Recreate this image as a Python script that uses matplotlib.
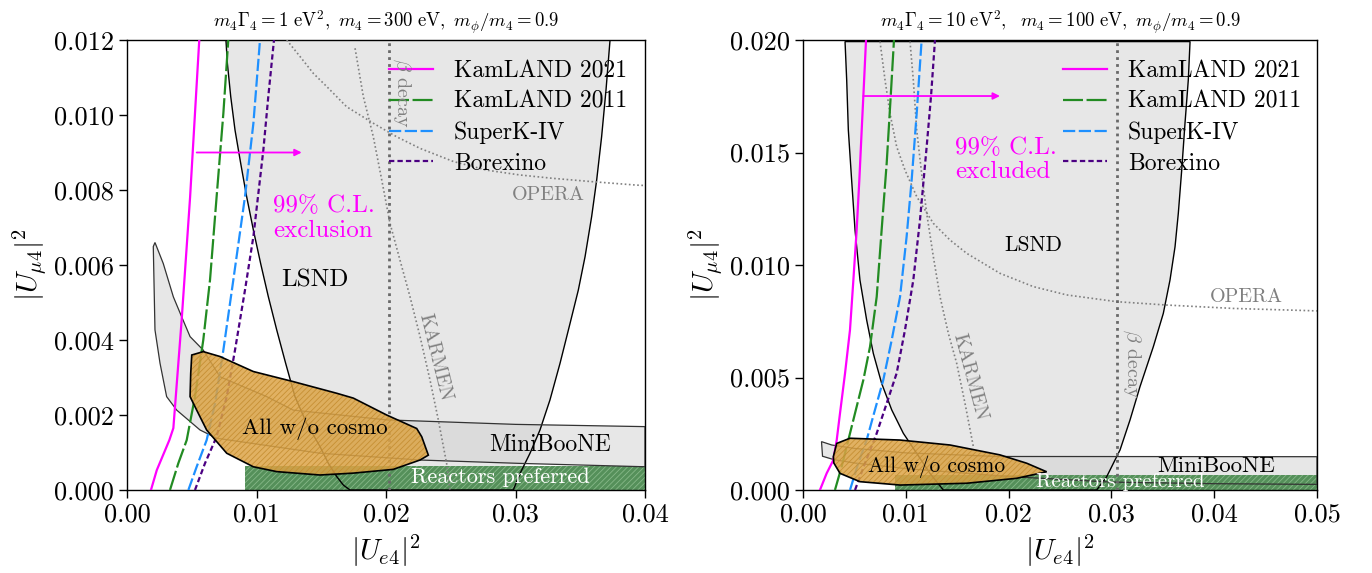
import numpy as np
import matplotlib
matplotlib.use("Agg")
import matplotlib.pyplot as plt

plt.rcParams['font.family'] = 'serif'
plt.rcParams['font.serif'] = ['cmr10', 'DejaVu Serif']
plt.rcParams['mathtext.fontset'] = 'cm'
plt.rcParams['axes.formatter.use_mathtext'] = True
plt.rcParams['axes.unicode_minus'] = False
plt.rcParams['hatch.linewidth'] = 0.6

# ---------------- left panel: m4*G4 = 1 eV^2, m4 = 300 eV ----------------
L_kam21_x = [0.00185, 0.0023, 0.00327, 0.00358, 0.00422, 0.00487, 0.00558]
L_kam21_y = [0.0, 0.00053, 0.00133, 0.00165, 0.00453, 0.0078, 0.012]
L_kam11_x = [0.00332, 0.00396, 0.00461, 0.00525, 0.00589, 0.00641, 0.00692, 0.00744, 0.00782]
L_kam11_y = [0.0, 0.00071, 0.00133, 0.00249, 0.0040, 0.0056, 0.00782, 0.01004, 0.012]
L_superk_x = [0.00474, 0.00538, 0.00615, 0.0068, 0.00744, 0.00821, 0.00911, 0.00976, 0.01027]
L_superk_y = [0.0, 0.00062, 0.00133, 0.00231, 0.00373, 0.0056, 0.00782, 0.00978, 0.012]
L_borex_x = [0.00525, 0.00602, 0.00692, 0.0077, 0.00834, 0.00911, 0.00976, 0.01053,
             0.01091, 0.01135]
L_borex_y = [0.0, 0.00071, 0.00142, 0.00249, 0.00373, 0.00533, 0.00676, 0.00907,
             0.01049, 0.012]

L_lsnd_x = [0.00764, 0.00775, 0.00801, 0.00834, 0.00878, 0.00924, 0.00976, 0.01032,
            0.01091, 0.01156, 0.01225, 0.01297, 0.01387, 0.0149, 0.01555, 0.01619,
            0.01671, 0.01722,
            0.02983, 0.03035, 0.03112, 0.03189, 0.03266, 0.03344, 0.03421, 0.03485,
            0.03537, 0.03588, 0.03627, 0.03665, 0.03699, 0.0373]
L_lsnd_y = [0.012, 0.01138, 0.01049, 0.0096, 0.00871, 0.00782, 0.00693, 0.00604,
            0.00516, 0.00427, 0.00338, 0.00249, 0.00178, 0.00116, 0.00071, 0.00036,
            0.00013, 0.0,
            0.0, 0.00044, 0.00098, 0.0016, 0.0024, 0.00338, 0.00444, 0.00533,
            0.00622, 0.00729, 0.00827, 0.00942, 0.01067, 0.012]

# LSND island joined to the MiniBooNE band
L_mb_x = [0.00216, 0.0028, 0.00358, 0.00422, 0.00487, 0.00589, 0.00718, 0.01079,
          0.01284, 0.02005, 0.0300, 0.0400,
          0.0400, 0.0303, 0.0226, 0.0149, 0.00693, 0.0064, 0.00564, 0.00384,
          0.00306, 0.00255, 0.00216, 0.00203]
L_mb_y = [0.0066, 0.00604, 0.00515, 0.00462, 0.00409, 0.00373, 0.00302, 0.00249,
          0.00213, 0.00187, 0.00175, 0.00169,
          0.00062, 0.00071, 0.0008, 0.00098, 0.00138, 0.00147, 0.0016, 0.00213,
          0.00249, 0.00338, 0.00427, 0.00649]

L_all_x = [0.0050, 0.00589, 0.00718, 0.00975, 0.01284, 0.01619, 0.01748, 0.02005,
           0.02237, 0.02276, 0.02327, 0.02263, 0.02056, 0.01748, 0.0149, 0.01156,
           0.00975, 0.0077, 0.00615, 0.00538, 0.00487, 0.00492]
L_all_y = [0.0036, 0.00369, 0.00356, 0.00316, 0.00289, 0.00258, 0.00245, 0.0020,
           0.00164, 0.00142, 0.00093, 0.0008, 0.00055, 0.00045, 0.0004, 0.00049,
           0.00062, 0.00098, 0.0016, 0.00213, 0.00249, 0.00311]

L_opera_x = [0.01233, 0.01336, 0.01439, 0.01542, 0.01696, 0.01902, 0.02082, 0.02263,
             0.0252, 0.02777, 0.03035, 0.03292, 0.03601, 0.03936, 0.0400]
L_opera_y = [0.012, 0.01156, 0.01111, 0.01076, 0.01022, 0.00978, 0.00942, 0.00911,
             0.00876, 0.00853, 0.0084, 0.00831, 0.00822, 0.00813, 0.00812]
L_karmen_x = [0.01761, 0.01825, 0.01902, 0.01967, 0.02031, 0.02108, 0.02185, 0.02263,
              0.0234, 0.02404, 0.02468, 0.02494]
L_karmen_y = [0.01178, 0.01049, 0.00942, 0.00827, 0.00711, 0.00613, 0.00516, 0.00409,
              0.00293, 0.00187, 0.00071, 0.0]
L_beta = 0.02026
L_reactor = (0.00911, 0.00064)   # x start, upper edge
L_arrow = (0.00538, 0.01349, 0.0090)

# ---------------- right panel: m4*G4 = 10 eV^2, m4 = 100 eV ----------------
R_kam21_x = [0.00165, 0.0023, 0.00295, 0.00328, 0.0036, 0.00409, 0.00457, 0.0049,
             0.00522, 0.00548, 0.00571, 0.00593, 0.00613]
R_kam21_y = [0.0, 0.00074, 0.00133, 0.00222, 0.00341, 0.00519, 0.00711, 0.00933,
             0.01156, 0.01378, 0.016, 0.01807, 0.020]
R_kam11_x = [0.00311, 0.00376, 0.00425, 0.00506, 0.00587, 0.00652, 0.00717, 0.00765,
             0.00814, 0.00853, 0.00885]
R_kam11_y = [0.0, 0.00104, 0.00193, 0.00341, 0.00489, 0.00637, 0.00859, 0.01156,
             0.01452, 0.01748, 0.020]
R_superk_x = [0.00457, 0.00538, 0.00619, 0.0070, 0.00781, 0.00863, 0.00944, 0.01008,
              0.01057, 0.01106, 0.01154]
R_superk_y = [0.0, 0.00119, 0.00222, 0.00356, 0.00489, 0.00667, 0.00859, 0.01126,
              0.01378, 0.01674, 0.020]
R_borex_x = [0.00506, 0.00603, 0.00717, 0.00814, 0.00911, 0.00992, 0.01073, 0.01138,
             0.01203, 0.01245, 0.01284]
R_borex_y = [0.0, 0.00119, 0.00252, 0.00385, 0.00519, 0.00711, 0.00933, 0.012,
             0.01526, 0.01748, 0.020]

R_lsnd_x = [0.00409, 0.00425, 0.00441, 0.00473, 0.00506, 0.00554, 0.00619, 0.00684,
            0.00765, 0.00863, 0.00976, 0.01106, 0.01235, 0.01365,
            0.02857, 0.02954, 0.03084, 0.03181, 0.03278, 0.03408, 0.03505, 0.0357,
            0.03619, 0.03651, 0.03684, 0.03716, 0.03748, 0.03765]
R_lsnd_y = [0.01993, 0.01822, 0.016, 0.01378, 0.01156, 0.00933, 0.00756, 0.00607,
            0.00474, 0.00356, 0.00252, 0.00163, 0.00074, 0.0,
            0.0, 0.00059, 0.00178, 0.00311, 0.00459, 0.00637, 0.00785, 0.00933,
            0.01081, 0.0123, 0.01422, 0.0163, 0.01822, 0.01993]

R_mb_x = [0.0018, 0.0028, 0.0050, 0.0100, 0.0190, 0.0500,
          0.0500, 0.0400, 0.0300, 0.0200, 0.0100, 0.0050, 0.0030, 0.0019]
R_mb_y = [0.00215, 0.0020, 0.00185, 0.00165, 0.00149, 0.00148,
          0.00025, 0.00028, 0.00035, 0.0006, 0.00095, 0.0012, 0.00135, 0.00150]

R_all_x = [0.00295, 0.00328, 0.00457, 0.00944, 0.0143, 0.01916, 0.02176, 0.0237,
           0.02079, 0.01592, 0.00944, 0.00554, 0.0036, 0.0030]
R_all_y = [0.00148, 0.00207, 0.0023, 0.00222, 0.0020, 0.00156, 0.00119, 0.00081,
           0.00052, 0.0003, 0.00022, 0.00037, 0.00074, 0.00120]

R_opera_x = [0.00749, 0.00798, 0.00846, 0.00911, 0.00992, 0.01106, 0.01268, 0.0143,
             0.01592, 0.01916, 0.0224, 0.02565, 0.03051, 0.03538, 0.04186, 0.04932, 0.0500]
R_opera_y = [0.01993, 0.01822, 0.01674, 0.01526, 0.01422, 0.01304, 0.01185, 0.01111,
             0.01052, 0.00963, 0.00904, 0.00867, 0.00837, 0.00822, 0.00807, 0.00797, 0.00796]
R_karmen_x = [0.01041, 0.01073, 0.01106, 0.01154, 0.01203, 0.01268, 0.01333, 0.01414,
              0.01495, 0.01576, 0.01657]
R_karmen_y = [0.01993, 0.01822, 0.016, 0.01407, 0.0123, 0.01037, 0.00859, 0.00696,
              0.00563, 0.00385, 0.00193]
R_beta = 0.03051
R_reactor = (0.00895, 0.00067)
R_arrow = (0.00587, 0.01916, 0.01751)

legend_labels = ['KamLAND 2021', 'KamLAND 2011', 'SuperK-IV', 'Borexino']
titles = [r'$m_4\Gamma_4 = 1\ \mathrm{eV}^2,\ m_4 = 300\ \mathrm{eV},\ m_\phi/m_4 = 0.9$',
          r'$m_4\Gamma_4 = 10\ \mathrm{eV}^2,\ \ m_4 = 100\ \mathrm{eV},\ m_\phi/m_4 = 0.9$']


def draw_panel(ax, d, xmax, ymax):
    # shaded allowed regions
    ax.fill(d['lsnd'][0], d['lsnd'][1], color='#d0d0d0', alpha=0.5, lw=0, zorder=1)
    ax.fill(d['mb'][0], d['mb'][1], color='#d0d0d0', alpha=0.5, lw=0, zorder=1)
    x0, ytop = d['reactor']
    ax.fill_between([x0, xmax], 0, ytop, facecolor='#55905a', edgecolor='#86b888',
                    hatch='//////', lw=0, zorder=2)
    ax.fill(d['lsnd'][0], d['lsnd'][1], fill=False, ec='black', lw=1.0, zorder=3)
    ax.fill(d['mb'][0], d['mb'][1], fill=False, ec='#333333', lw=0.9, zorder=3)

    # other experiments
    ax.plot(d['opera'][0], d['opera'][1], ls=(0, (1, 1.5)), color='gray', lw=1.2, zorder=3)
    ax.plot(d['karmen'][0], d['karmen'][1], ls=(0, (1, 1.5)), color='gray', lw=1.2, zorder=3)
    ax.axvline(d['beta'], ls=(0, (1, 1.5)), color='dimgray', lw=2.0, zorder=3)

    # solar-reactor exclusion curves
    l1, = ax.plot(d['kam21'][0], d['kam21'][1], color='magenta', lw=1.6, zorder=4)
    l2, = ax.plot(d['kam11'][0], d['kam11'][1], color='forestgreen', lw=1.6,
                  dashes=(9, 1.6), zorder=4)
    l3, = ax.plot(d['superk'][0], d['superk'][1], color='dodgerblue', lw=1.6,
                  dashes=(5.5, 1.6), zorder=4)
    l4, = ax.plot(d['borex'][0], d['borex'][1], color='indigo', lw=1.6,
                  dashes=(2.4, 1.4), zorder=4)

    # global fit without cosmology
    ax.fill(d['all'][0], d['all'][1], facecolor='#dca446', edgecolor='#c28a2c',
            hatch='//////', alpha=0.85, lw=0, zorder=5)
    ax.fill(d['all'][0], d['all'][1], fill=False, ec='black', lw=1.2, zorder=6)

    xa0, xa1, ya = d['arrow']
    ax.annotate('', xy=(xa1, ya), xytext=(xa0, ya),
                arrowprops=dict(arrowstyle='-|>', color='magenta', lw=1.3,
                                mutation_scale=10, shrinkA=0, shrinkB=0), zorder=7)

    ax.set_xlim(0, xmax)
    ax.set_ylim(0, ymax)
    ax.set_xlabel(r'$|U_{e4}|^2$', fontsize=21)
    ax.set_ylabel(r'$|U_{\mu4}|^2$', fontsize=21)
    ax.tick_params(labelsize=19, width=1.0, length=6)
    for s in ax.spines.values():
        s.set_linewidth(1.0)
    ax.legend([l1, l2, l3, l4], legend_labels, loc='upper left',
              bbox_to_anchor=(0.506, 0.955), frameon=False, fontsize=17,
              handlelength=1.85, handletextpad=0.9, labelspacing=0.36,
              borderpad=0, borderaxespad=0)


fig = plt.figure(figsize=(13.72, 5.73), dpi=100)
axL = fig.add_axes([127/1372, 83/573, 518/1372, 450/573])
axR = fig.add_axes([803/1372, 83/573, 514/1372, 450/573])

left = dict(kam21=(L_kam21_x, L_kam21_y), kam11=(L_kam11_x, L_kam11_y),
            superk=(L_superk_x, L_superk_y), borex=(L_borex_x, L_borex_y),
            lsnd=(L_lsnd_x, L_lsnd_y), mb=(L_mb_x, L_mb_y), all=(L_all_x, L_all_y),
            opera=(L_opera_x, L_opera_y), karmen=(L_karmen_x, L_karmen_y),
            beta=L_beta, reactor=L_reactor, arrow=L_arrow)
right = dict(kam21=(R_kam21_x, R_kam21_y), kam11=(R_kam11_x, R_kam11_y),
             superk=(R_superk_x, R_superk_y), borex=(R_borex_x, R_borex_y),
             lsnd=(R_lsnd_x, R_lsnd_y), mb=(R_mb_x, R_mb_y), all=(R_all_x, R_all_y),
             opera=(R_opera_x, R_opera_y), karmen=(R_karmen_x, R_karmen_y),
             beta=R_beta, reactor=R_reactor, arrow=R_arrow)

draw_panel(axL, left, 0.04, 0.012)
draw_panel(axR, right, 0.05, 0.020)

axL.set_xticks([0.0, 0.01, 0.02, 0.03, 0.04])
axL.set_yticks(np.arange(0, 0.0121, 0.002))
axR.set_xticks([0.0, 0.01, 0.02, 0.03, 0.04, 0.05])
axR.set_yticks(np.arange(0, 0.0201, 0.005))
axL.xaxis.set_major_formatter(plt.FormatStrFormatter('%.2f'))
axL.yaxis.set_major_formatter(plt.FormatStrFormatter('%.3f'))
axR.xaxis.set_major_formatter(plt.FormatStrFormatter('%.2f'))
axR.yaxis.set_major_formatter(plt.FormatStrFormatter('%.3f'))

axL.set_title(titles[0], fontsize=13.5, pad=9)
axR.set_title(titles[1], fontsize=13.5, pad=9)

# region labels, left panel
axL.text(0.01452, 0.0056, 'LSND', fontsize=18, ha='center', va='center', zorder=8)
axL.text(0.03266, 0.0012, 'MiniBooNE', fontsize=17, ha='center', va='center', zorder=8)
axL.text(0.01452, 0.00164, 'All w/o cosmo', fontsize=16.5, ha='center', va='center', zorder=8)
axL.text(0.0288, 0.00033, 'Reactors preferred', fontsize=16, color='white',
         ha='center', va='center', zorder=8)
axL.text(0.0113, 0.00725, '99% C.L.\nexclusion', fontsize=18, color='magenta',
         ha='left', va='center', linespacing=1.15, zorder=8)
axL.text(0.03254, 0.00787, 'OPERA', fontsize=14.5, color='gray', ha='center', va='center', zorder=8)
axL.text(0.02378, 0.00355, 'KARMEN', fontsize=14, color='gray', ha='center', va='center',
         rotation=-76, zorder=8)
axL.text(0.0212, 0.0106, r'$\beta$ decay', fontsize=14.5, color='gray', ha='center',
         va='center', rotation=-90, zorder=8)

# region labels, right panel
axR.text(0.0224, 0.01089, 'LSND', fontsize=15.5, ha='center', va='center', zorder=8)
axR.text(0.04024, 0.00104, 'MiniBooNE', fontsize=16.5, ha='center', va='center', zorder=8)
axR.text(0.0130, 0.00104, 'All w/o cosmo', fontsize=15.5, ha='center', va='center', zorder=8)
axR.text(0.03084, 0.00035, 'Reactors preferred', fontsize=15, color='white',
         ha='center', va='center', zorder=8)
axR.text(0.01479, 0.01467, '99% C.L.\nexcluded', fontsize=18, color='magenta',
         ha='left', va='center', linespacing=1.15, zorder=8)
axR.text(0.04316, 0.00859, 'OPERA', fontsize=14.5, color='gray', ha='center', va='center', zorder=8)
axR.text(0.01625, 0.00504, 'KARMEN', fontsize=14, color='gray', ha='center', va='center',
         rotation=-75, zorder=8)
axR.text(0.03197, 0.00563, r'$\beta$ decay', fontsize=14.5, color='gray', ha='center',
         va='center', rotation=-90, zorder=8)

fig.savefig('out.png', dpi=100)
